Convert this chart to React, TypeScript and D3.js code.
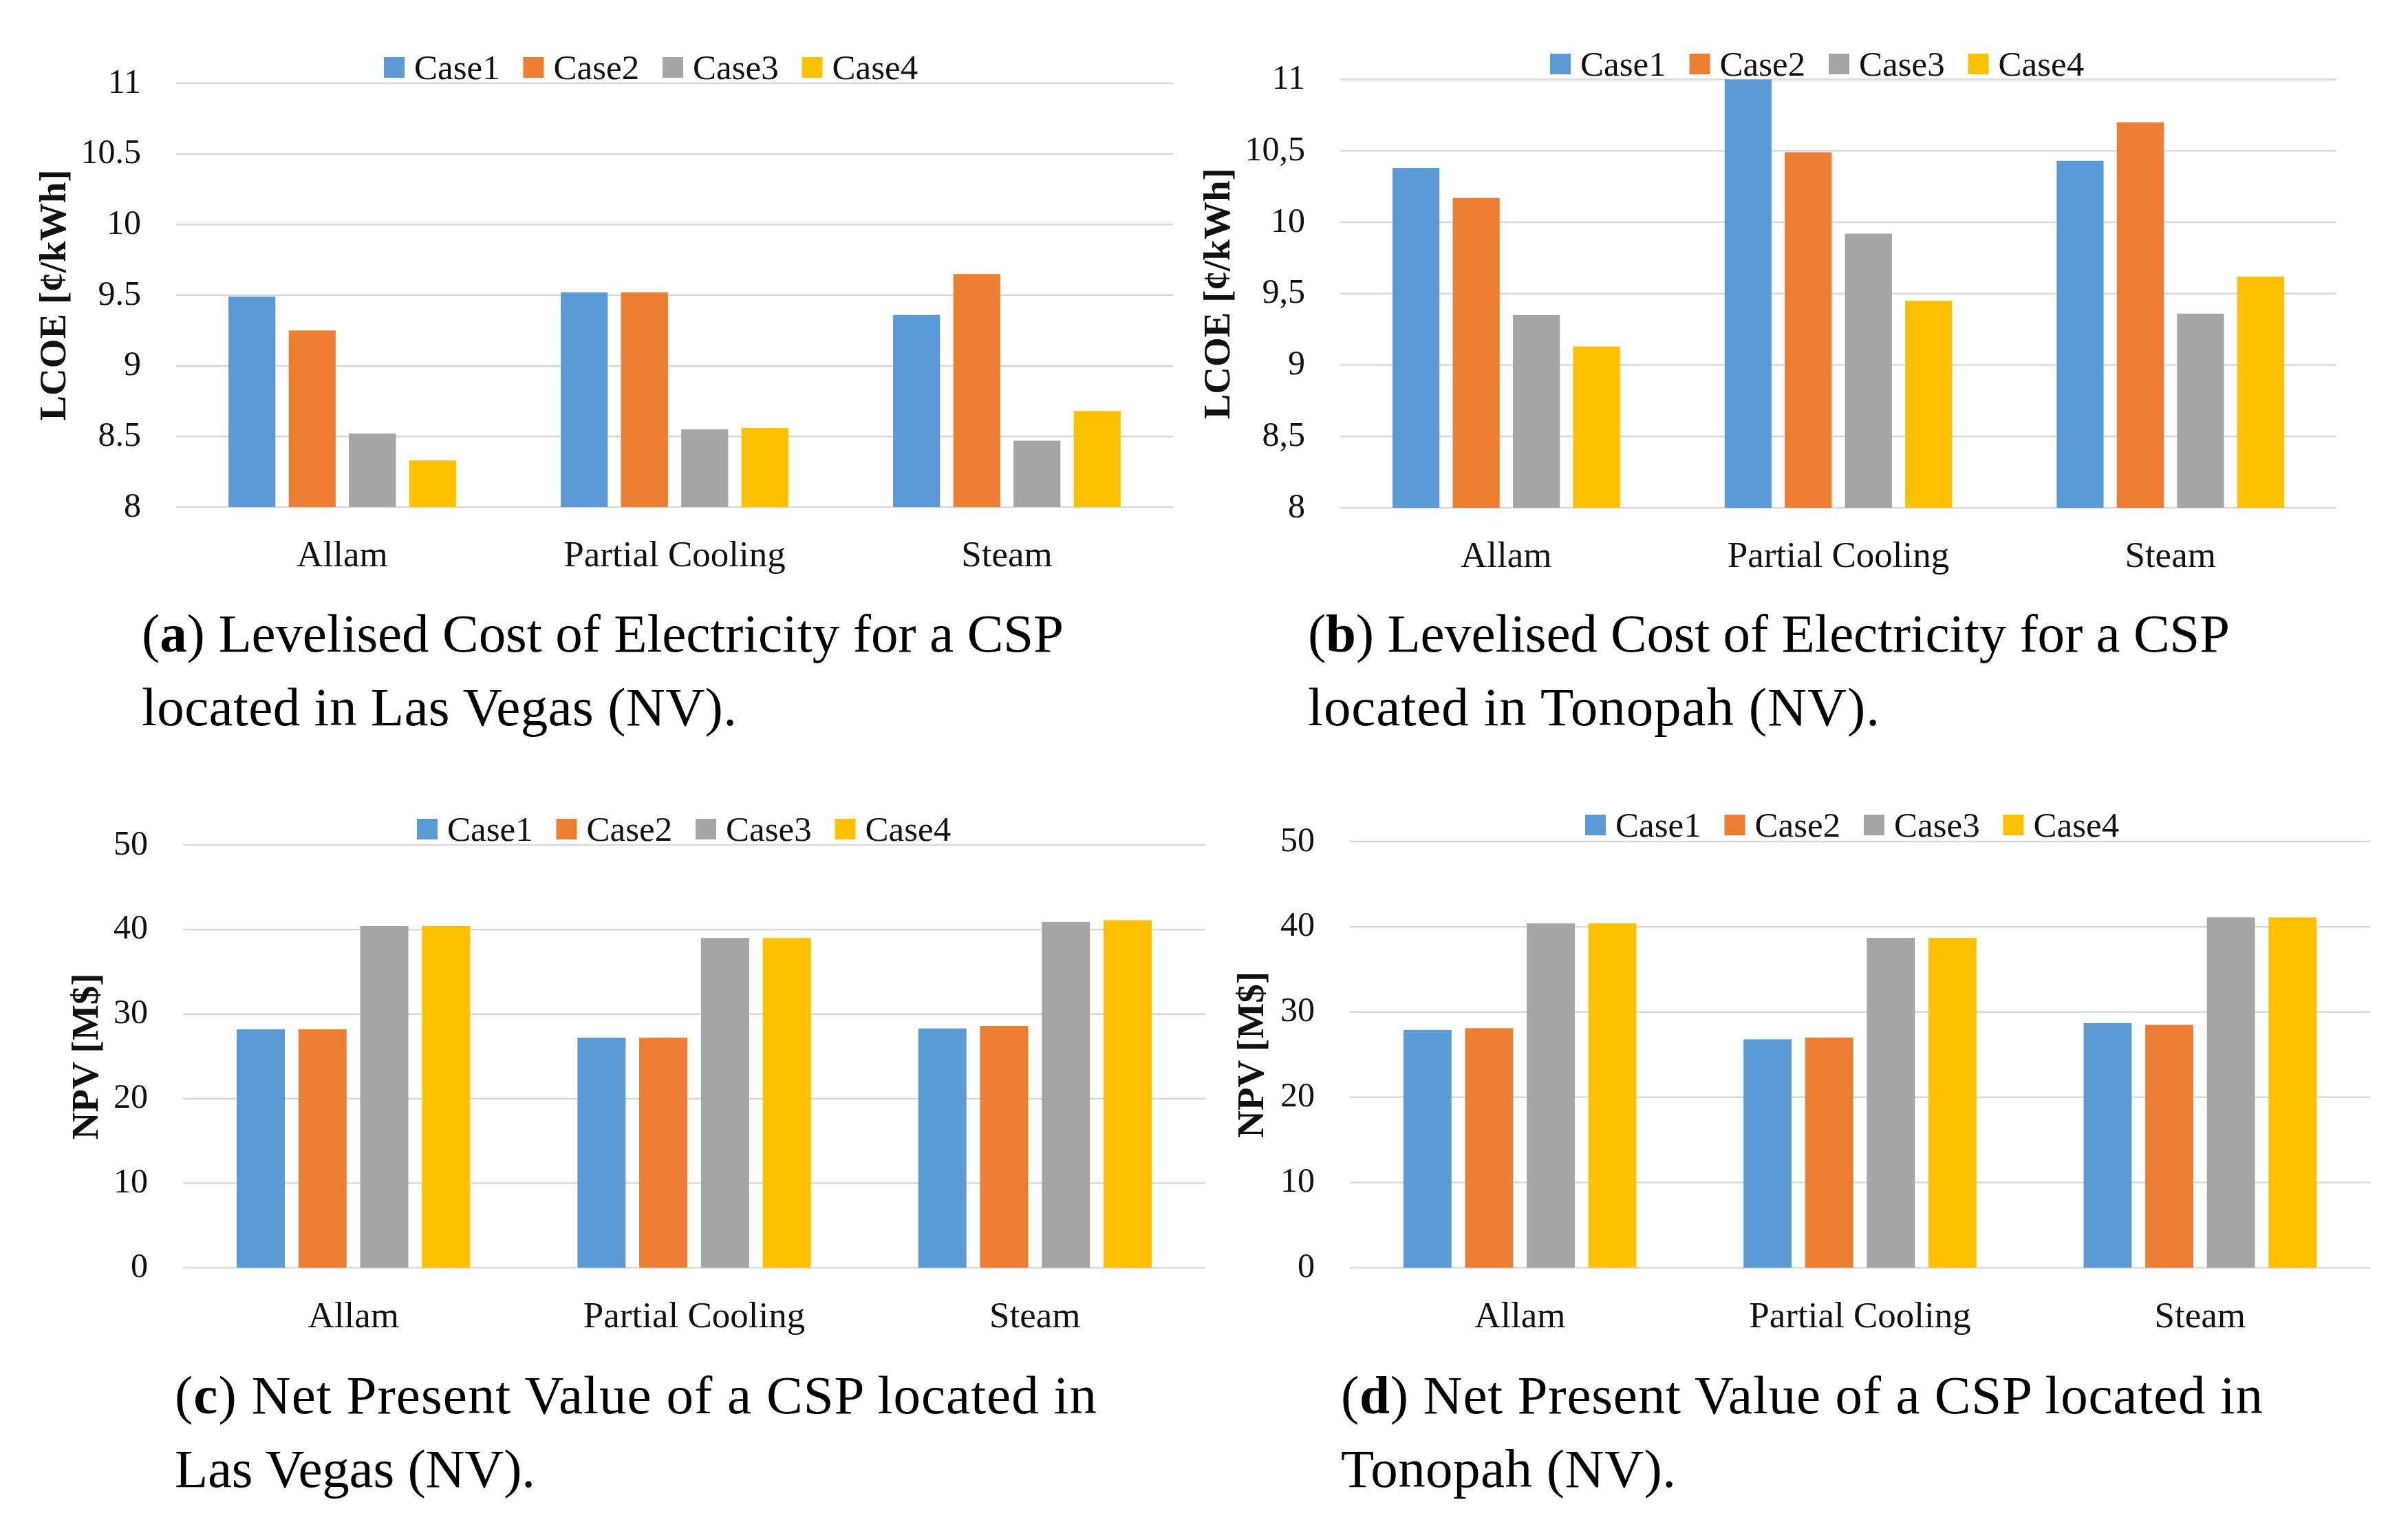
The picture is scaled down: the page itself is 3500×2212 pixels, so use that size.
import { useEffect } from "react";
import * as d3 from "d3";

const categories = ["Allam", "Partial Cooling", "Steam"];
const series = ["Case1", "Case2", "Case3", "Case4"];
const colors = ["#5B9BD5", "#ED7D31", "#A5A5A5", "#FFC000"];

// LCOE [¢/kWh], rows = category, cols = Case1..Case4
const lcoeLasVegas = [
  [9.49, 9.25, 8.52, 8.33],
  [9.52, 9.52, 8.55, 8.56],
  [9.36, 9.65, 8.47, 8.68],
];
const lcoeTonopah = [
  [10.38, 10.17, 9.35, 9.13],
  [11.0, 10.49, 9.92, 9.45],
  [10.43, 10.7, 9.36, 9.62],
];
// NPV [M$]
const npvLasVegas = [
  [28.2, 28.2, 40.4, 40.4],
  [27.2, 27.2, 39.0, 39.0],
  [28.3, 28.6, 40.9, 41.1],
];
const npvTonopah = [
  [27.9, 28.1, 40.4, 40.4],
  [26.8, 27.0, 38.7, 38.7],
  [28.7, 28.5, 41.1, 41.1],
];

const lcoeTicks = [8, 8.5, 9, 9.5, 10, 10.5, 11];
const npvTicks = [0, 10, 20, 30, 40, 50];

const FONT = "'Liberation Serif', 'Times New Roman', serif";

type PanelProps = {
  values: number[][];
  domain: [number, number];
  ticks: number[];
  fmt: (v: number) => string;
  yTitle: string;
  left: number;
  right: number;
  top: number;
  bottom: number;
  legendX: number;
  legendY: number;
  titleX: number;
  captionX: number;
  captionY: number;
  letter: string;
  line1: string;
  line2: string;
  len1: number;
  len2: number;
};

function Panel(p: PanelProps) {
  const x0 = d3
    .scaleBand<string>()
    .domain(categories)
    .range([p.left, p.right])
    .paddingInner(0.315)
    .paddingOuter(0.1575);
  const x1 = d3
    .scaleBand<string>()
    .domain(series)
    .range([0, x0.bandwidth()])
    .paddingInner(0.22)
    .paddingOuter(0);
  const y = d3.scaleLinear().domain(p.domain).range([p.bottom, p.top]);
  const clipY = (v: number) => Math.max(p.top, y(v));

  return (
    <g>
      {/* gridlines */}
      {p.ticks.map((t) => (
        <line
          key={"g" + t}
          x1={p.left}
          x2={p.right}
          y1={y(t)}
          y2={y(t)}
          stroke="#D9D9D9"
          strokeWidth={2.5}
        />
      ))}
      {/* tick labels */}
      {p.ticks.map((t) => (
        <text
          key={"t" + t}
          x={p.left - 51}
          y={y(t)}
          dy="0.27em"
          textAnchor="end"
          fontSize={50}
          fill="#111"
        >
          {p.fmt(t)}
        </text>
      ))}
      {/* bars */}
      {categories.map((c, ci) => (
        <g key={c} transform={`translate(${x0(c)},0)`}>
          {series.map((s, si) => (
            <rect
              key={s}
              x={x1(s)}
              y={clipY(p.values[ci][si])}
              width={x1.bandwidth()}
              height={p.bottom - clipY(p.values[ci][si])}
              fill={colors[si]}
            />
          ))}
        </g>
      ))}
      {/* category labels */}
      {categories.map((c) => (
        <text
          key={"c" + c}
          x={(x0(c) ?? 0) + x0.bandwidth() / 2}
          y={p.bottom + 86}
          textAnchor="middle"
          fontSize={53}
          fill="#111"
        >
          {c}
        </text>
      ))}
      {/* legend */}
      {series.map((s, i) => (
        <g key={"l" + s} transform={`translate(${p.legendX + i * 202.5},${p.legendY})`}>
          <rect x={0} y={-15} width={30} height={30} fill={colors[i]} />
          <text x={44} y={0} dy="0.33em" fontSize={51} fill="#111">
            {s}
          </text>
        </g>
      ))}
      {/* y-axis title */}
      <text
        transform={`translate(${p.titleX},${(p.top + p.bottom) / 2}) rotate(-90)`}
        textAnchor="middle"
        dy="0.35em"
        fontSize={55}
        fontWeight="bold"
        fill="#111"
      >
        {p.yTitle}
      </text>
      {/* caption */}
      <text
        x={p.captionX}
        y={p.captionY}
        fontSize={79}
        fill="#000"
        textLength={p.len1}
        lengthAdjust="spacing"
      >
        (<tspan fontWeight="bold">{p.letter}</tspan>) {p.line1}
      </text>
      <text
        x={p.captionX}
        y={p.captionY + 107}
        fontSize={79}
        fill="#000"
        textLength={p.len2}
        lengthAdjust="spacing"
      >
        {p.line2}
      </text>
    </g>
  );
}

const dotFmt = (v: number) => String(v);
const commaFmt = (v: number) => String(v).replace(".", ",");

export default function App() {
  useEffect(() => {
    document.body.style.margin = "0";
  }, []);

  return (
    <svg
      width={3500}
      height={2212}
      viewBox="0 0 3500 2212"
      style={{ display: "block", background: "#fff", fontFamily: FONT }}
    >
      <rect width={3500} height={2212} fill="#fff" />
      <Panel
        values={lcoeLasVegas}
        domain={[8, 11]}
        ticks={lcoeTicks}
        fmt={dotFmt}
        yTitle="LCOE [¢/kWh]"
        left={256}
        right={1705}
        top={121}
        bottom={737}
        legendX={558}
        legendY={98}
        titleX={76}
        captionX={206}
        captionY={947}
        letter="a"
        line1="Levelised Cost of Electricity for a CSP"
        line2="located in Las Vegas (NV)."
        len1={1340}
        len2={865}
      />
      <Panel
        values={lcoeTonopah}
        domain={[8, 11]}
        ticks={lcoeTicks}
        fmt={commaFmt}
        yTitle="LCOE [¢/kWh]"
        left={1948}
        right={3396}
        top={115.5}
        bottom={738}
        legendX={2253}
        legendY={93}
        titleX={1768}
        captionX={1901}
        captionY={947}
        letter="b"
        line1="Levelised Cost of Electricity for a CSP"
        line2="located in Tonopah (NV)."
        len1={1340}
        len2={831}
      />
      <Panel
        values={npvLasVegas}
        domain={[0, 50]}
        ticks={npvTicks}
        fmt={dotFmt}
        yTitle="NPV [M$]"
        left={266}
        right={1752}
        top={1228}
        bottom={1842.5}
        legendX={606}
        legendY={1205}
        titleX={123}
        captionX={254}
        captionY={2054}
        letter="c"
        line1="Net Present Value of a CSP located in"
        line2="Las Vegas (NV)."
        len1={1340}
        len2={524}
      />
      <Panel
        values={npvTonopah}
        domain={[0, 50]}
        ticks={npvTicks}
        fmt={dotFmt}
        yTitle="NPV [M$]"
        left={1962}
        right={3445}
        top={1223}
        bottom={1842.5}
        legendX={2304}
        legendY={1199}
        titleX={1817}
        captionX={1949}
        captionY={2054}
        letter="d"
        line1="Net Present Value of a CSP located in"
        line2="Tonopah (NV)."
        len1={1340}
        len2={487}
      />
    </svg>
  );
}
